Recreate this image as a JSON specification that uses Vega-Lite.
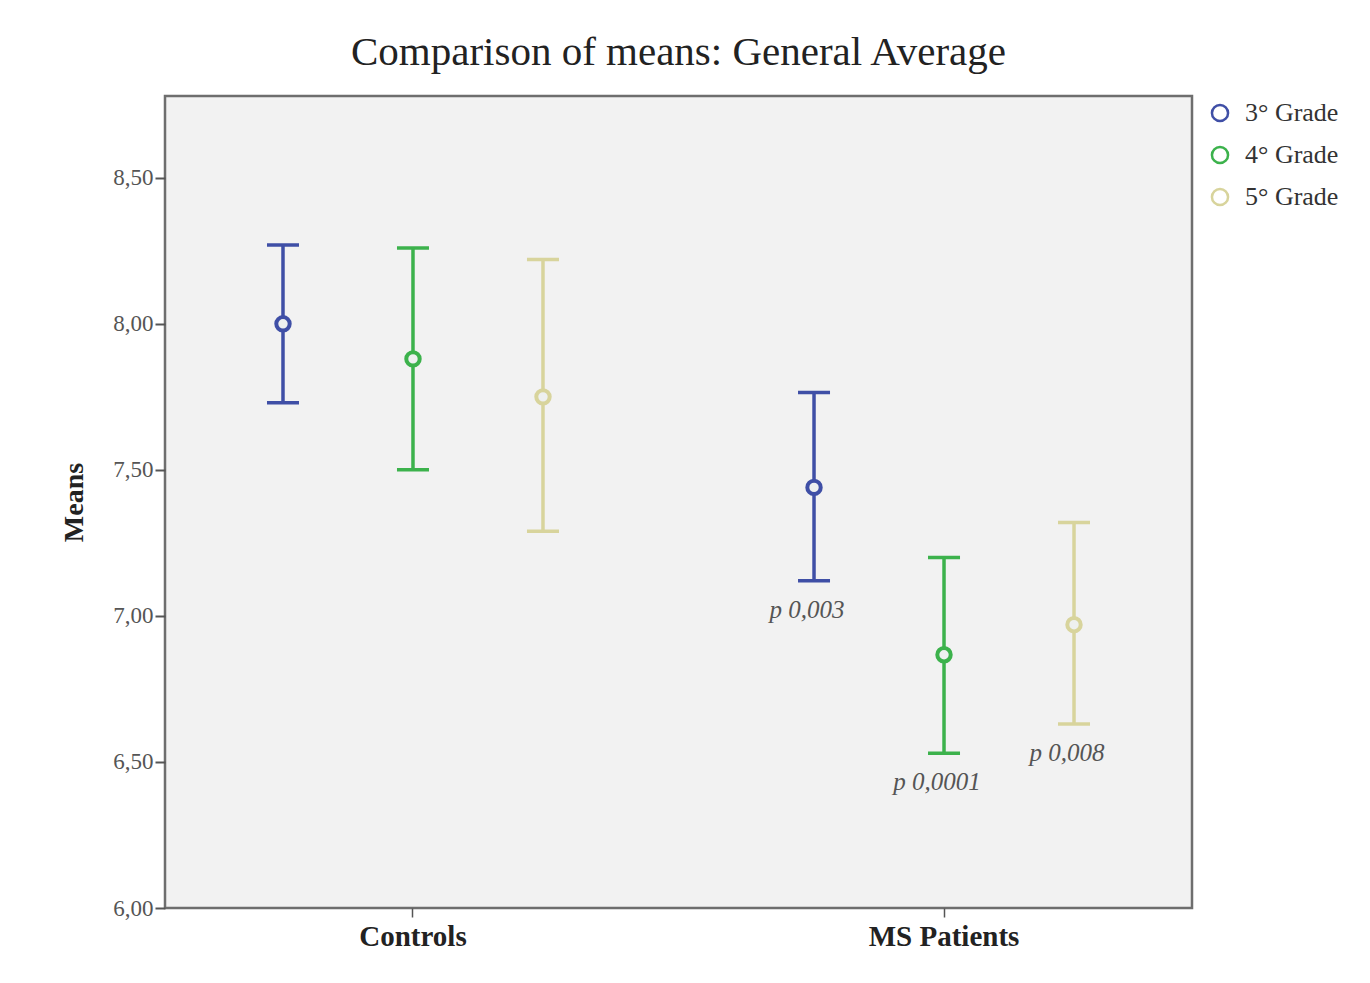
{
  "$schema": "https://vega.github.io/schema/vega-lite/v6.json",
  "width": 1027,
  "height": 812,
  "autosize": "none",
  "padding": {"left": 165, "top": 96, "right": 178, "bottom": 75},
  "background": "white",
  "title": {
    "text": "Comparison of means: General Average",
    "font": "Liberation Serif",
    "fontSize": 41,
    "fontWeight": "normal",
    "color": "#222222",
    "anchor": "middle",
    "offset": 22
  },
  "config": {
    "view": {"fill": "#f2f2f2", "stroke": "#6e6e6e", "strokeWidth": 2.5}
  },
  "data": {
    "values": [
      {"group": "Controls", "grade": "3° Grade", "mean": 8.0, "lower": 7.73, "upper": 8.27, "p": null},
      {"group": "Controls", "grade": "4° Grade", "mean": 7.88, "lower": 7.5, "upper": 8.26, "p": null},
      {"group": "Controls", "grade": "5° Grade", "mean": 7.75, "lower": 7.29, "upper": 8.22, "p": null},
      {"group": "MS Patients", "grade": "3° Grade", "mean": 7.44, "lower": 7.12, "upper": 7.765, "p": "p 0,003"},
      {"group": "MS Patients", "grade": "4° Grade", "mean": 6.867, "lower": 6.53, "upper": 7.2, "p": "p 0,0001"},
      {"group": "MS Patients", "grade": "5° Grade", "mean": 6.97, "lower": 6.63, "upper": 7.32, "p": "p 0,008"}
    ]
  },
  "encoding": {
    "x": {
      "field": "group",
      "type": "nominal",
      "sort": ["Controls", "MS Patients"],
      "scale": {"paddingInner": 0.2, "paddingOuter": 0.067},
      "axis": {
        "title": null,
        "labelAngle": 0,
        "labelFont": "Liberation Serif",
        "labelFontSize": 29,
        "labelFontWeight": "bold",
        "labelColor": "#222222",
        "labelPadding": 5,
        "tickSize": 9,
        "tickColor": "#555555",
        "tickWidth": 1.5,
        "domain": false
      }
    },
    "xOffset": {
      "field": "grade",
      "type": "nominal",
      "sort": ["3° Grade", "4° Grade", "5° Grade"],
      "scale": {"paddingInner": 0, "paddingOuter": 0.134}
    },
    "color": {
      "field": "grade",
      "type": "nominal",
      "scale": {"domain": ["3° Grade", "4° Grade", "5° Grade"], "range": ["#3f4fa6", "#3cb24c", "#d8d49c"]},
      "legend": {
        "title": null,
        "orient": "none",
        "legendX": 1042,
        "legendY": 4,
        "symbolType": "circle",
        "symbolSize": 260,
        "symbolStrokeWidth": 2.5,
        "symbolFillColor": "transparent",
        "labelFont": "Liberation Serif",
        "labelFontSize": 26,
        "labelColor": "#333333",
        "labelOffset": 12,
        "rowPadding": 14
      }
    }
  },
  "layer": [
    {
      "mark": {"type": "rule", "strokeWidth": 3.5},
      "encoding": {
        "y": {
          "field": "lower",
          "type": "quantitative",
          "scale": {"domain": [6, 8.78], "nice": false, "zero": false},
          "axis": {
            "title": "Means",
            "titleFont": "Liberation Serif",
            "titleFontSize": 28,
            "titleFontWeight": "bold",
            "titleColor": "#222222",
            "titlePadding": 24,
            "values": [6, 6.5, 7, 7.5, 8, 8.5],
            "labelExpr": "replace(format(datum.value, '.2f'), '.', ',')",
            "labelFont": "Liberation Serif",
            "labelFontSize": 23,
            "labelColor": "#555555",
            "labelPadding": 2,
            "tickSize": 10,
            "tickColor": "#555555",
            "tickWidth": 2,
            "grid": false,
            "domain": false
          }
        },
        "y2": {"field": "upper"}
      }
    },
    {
      "mark": {"type": "point", "shape": "stroke", "filled": false, "size": 1024, "strokeWidth": 3.5, "opacity": 1},
      "encoding": {"y": {"field": "lower", "type": "quantitative"}}
    },
    {
      "mark": {"type": "point", "shape": "stroke", "filled": false, "size": 1024, "strokeWidth": 3.5, "opacity": 1},
      "encoding": {"y": {"field": "upper", "type": "quantitative"}}
    },
    {
      "mark": {"type": "point", "shape": "circle", "filled": false, "fill": "#eef0f0", "size": 180, "strokeWidth": 4, "opacity": 1},
      "encoding": {"y": {"field": "mean", "type": "quantitative"}}
    },
    {
      "transform": [{"filter": "datum.p != null"}],
      "mark": {"type": "text", "font": "Liberation Serif", "fontSize": 25, "fontStyle": "italic", "baseline": "middle", "dy": 29, "dx": -7},
      "encoding": {
        "y": {"field": "lower", "type": "quantitative"},
        "text": {"field": "p"},
        "color": {"value": "#555555"}
      }
    }
  ]
}
